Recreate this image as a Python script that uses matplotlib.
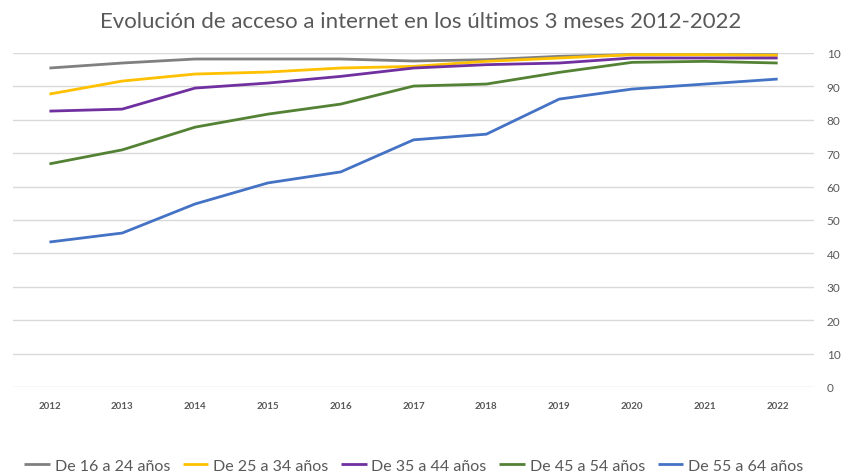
import matplotlib.pyplot as plt

plt.rcParams['font.family'] = ['Lato', 'DejaVu Sans']

years = [2012, 2013, 2014, 2015, 2016, 2017, 2018, 2019, 2020, 2021, 2022]
labels = ["De 16 a 24 años", "De 25 a 34 años", "De 35 a 44 años",
          "De 45 a 54 años", "De 55 a 64 años"]
age_16_24 = [95.5, 97.0, 98.2, 98.2, 98.2, 97.6, 98.0, 99.0, 99.5, 99.5, 99.5]
age_25_34 = [87.7, 91.6, 93.7, 94.3, 95.5, 96.0, 97.5, 98.5, 99.5, 99.5, 99.3]
age_35_44 = [82.6, 83.2, 89.5, 91.0, 93.0, 95.5, 96.5, 97.0, 98.5, 98.5, 98.5]
age_45_54 = [66.8, 71.0, 77.8, 81.7, 84.7, 90.1, 90.7, 94.2, 97.2, 97.5, 97.0]
age_55_64 = [43.4, 46.1, 54.8, 61.1, 64.4, 74.0, 75.7, 86.2, 89.2, 90.7, 92.2]

series = [age_16_24, age_25_34, age_35_44, age_45_54, age_55_64]
colors = ["#808080", "#FFC000", "#7030A0", "#548235", "#4472C4"]

fig = plt.figure(figsize=(8.41, 4.77), dpi=100)
ax = fig.add_axes([0.0155, 0.1866, 0.9525, 0.7002])

for vals, col, lab in zip(series, colors, labels):
    ax.plot(years, vals, color=col, linewidth=2.0, label=lab, solid_capstyle="butt")

ax.set_xlim(2011.5, 2022.5)
ax.set_ylim(0, 100)
ax.set_xticks(years)
ax.set_xticklabels([str(y) for y in years], fontsize=7, fontweight="bold", color="#595959")
ax.set_yticks(range(0, 101, 10))
ax.yaxis.tick_right()
ax.tick_params(axis="y", length=0, pad=9, labelsize=8.5, labelcolor="#595959")
ax.tick_params(axis="x", length=0, pad=10)
ax.grid(axis="y", color="#d9d9d9", linewidth=1)
ax.set_axisbelow(True)
for s in ax.spines.values():
    s.set_visible(False)

fig.text(0.5, 0.954, "Evolución de acceso a internet en los últimos 3 meses 2012-2022",
         ha="center", va="center", fontsize=16, color="#595959")

fig.legend(loc="center", bbox_to_anchor=(0.492, 0.021), ncol=5, frameon=False,
           fontsize=11.5, handlelength=1.6, handletextpad=0.3, columnspacing=0.8,
           labelcolor="#595959")

fig.savefig("out.png", dpi=100)
